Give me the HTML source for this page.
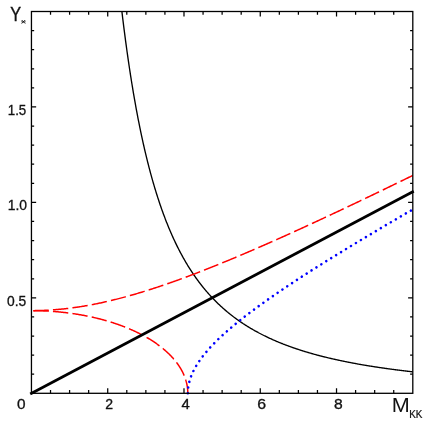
<!DOCTYPE html>
<html><head><meta charset="utf-8"><title>Y* vs MKK</title>
<style>
html,body{margin:0;padding:0;background:#fff;}
body{width:429px;height:421px;overflow:hidden;}
svg{display:block;will-change:transform;}
text{font-family:"Liberation Sans",sans-serif;fill:#111;stroke:#111;}
</style></head><body>
<svg width="429" height="421" viewBox="0 0 429 421">
<defs><clipPath id="c"><rect x="31.45" y="11.5" width="381.35" height="383.40"/></clipPath></defs>
<g clip-path="url(#c)" fill="none">
<path d="M120.79 1.96 L121.27 6.18 L121.76 10.35 L122.25 14.44 L122.73 18.47 L123.22 22.43 L123.71 26.34 L124.19 30.18 L124.68 33.96 L125.17 37.68 L125.65 41.35 L126.14 44.96 L126.63 48.51 L127.11 52.01 L127.60 55.46 L128.09 58.85 L128.57 62.19 L129.06 65.49 L129.55 68.73 L130.03 71.93 L130.52 75.08 L131.01 78.18 L131.49 81.24 L131.98 84.26 L132.47 87.23 L132.95 90.15 L133.44 93.04 L133.93 95.89 L134.41 98.69 L134.90 101.46 L135.39 104.18 L135.87 106.87 L136.36 109.52 L136.85 112.14 L137.33 114.72 L137.82 117.26 L138.31 119.77 L138.79 122.24 L139.28 124.68 L139.77 127.09 L140.25 129.47 L140.74 131.81 L141.23 134.13 L141.71 136.41 L142.20 138.66 L142.69 140.89 L143.17 143.08 L143.66 145.25 L144.15 147.38 L144.63 149.50 L145.12 151.58 L145.61 153.64 L146.09 155.67 L146.58 157.67 L147.07 159.65 L147.55 161.60 L148.04 163.54 L148.53 165.44 L149.01 167.32 L149.50 169.18 L149.99 171.02 L150.47 172.83 L150.96 174.63 L151.45 176.40 L151.93 178.15 L152.42 179.87 L152.91 181.58 L153.39 183.27 L153.88 184.93 L154.37 186.58 L154.85 188.21 L155.34 189.82 L155.83 191.41 L156.31 192.98 L156.80 194.53 L157.29 196.06 L157.77 197.58 L158.26 199.08 L158.75 200.56 L159.23 202.03 L159.72 203.48 L160.21 204.91 L160.69 206.32 L161.18 207.72 L161.67 209.11 L162.15 210.48 L162.64 211.83 L163.13 213.17 L163.61 214.50 L164.10 215.80 L164.59 217.10 L165.07 218.38 L165.56 219.65 L166.05 220.90 L166.53 222.14 L167.02 223.37 L167.51 224.58 L167.99 225.78 L168.48 226.97 L168.97 228.15 L169.45 229.31 L169.94 230.46 L170.43 231.60 L170.91 232.72 L171.40 233.84 L171.89 234.94 L172.37 236.03 L172.86 237.12 L173.35 238.19 L173.83 239.24 L174.32 240.29 L174.81 241.33 L175.29 242.36 L175.78 243.37 L176.27 244.38 L176.75 245.37 L177.24 246.36 L177.73 247.34 L178.21 248.30 L178.70 249.26 L179.19 250.21 L179.67 251.14 L180.16 252.07 L180.65 252.99 L181.14 253.90 L181.62 254.81 L182.11 255.70 L182.60 256.58 L183.08 257.46 L183.57 258.33 L184.06 259.19 L184.54 260.04 L185.03 260.88 L185.52 261.72 L186.00 262.55 L186.49 263.36 L186.98 264.18 L187.46 264.98 L187.95 265.78 L188.44 266.57 L188.92 267.35 L189.41 268.12 L189.90 268.89 L190.38 269.65 L190.87 270.41 L191.36 271.15 L191.84 271.89 L192.33 272.63 L192.82 273.35 L193.30 274.07 L193.79 274.79 L194.28 275.50 L194.76 276.20 L195.25 276.89 L195.74 277.58 L196.22 278.26 L196.71 278.94 L197.20 279.61 L197.68 280.28 L198.17 280.93 L198.66 281.59 L199.14 282.23 L199.63 282.88 L200.12 283.51 L200.60 284.14 L201.09 284.77 L201.58 285.39 L202.06 286.00 L202.55 286.61 L203.04 287.22 L203.52 287.82 L204.01 288.41 L204.50 289.00 L204.98 289.58 L205.47 290.16 L205.96 290.74 L206.44 291.31 L206.93 291.87 L207.42 292.43 L207.90 292.99 L208.39 293.54 L208.88 294.09 L209.36 294.63 L209.85 295.17 L210.34 295.70 L210.82 296.23 L211.31 296.75 L211.80 297.27 L212.28 297.79 L212.77 298.30 L213.26 298.81 L213.74 299.31 L214.23 299.81 L214.72 300.31 L215.20 300.80 L215.69 301.29 L216.18 301.77 L216.66 302.25 L217.15 302.73 L217.64 303.20 L218.12 303.67 L218.61 304.14 L219.10 304.60 L219.58 305.06 L220.07 305.51 L220.56 305.96 L221.04 306.41 L221.53 306.86 L222.02 307.30 L222.50 307.74 L222.99 308.17 L223.48 308.60 L223.96 309.03 L224.45 309.45 L224.94 309.87 L225.42 310.29 L225.91 310.71 L226.40 311.12 L226.88 311.53 L227.37 311.93 L227.86 312.34 L228.34 312.74 L228.83 313.13 L229.32 313.53 L229.80 313.92 L230.29 314.31 L230.78 314.69 L231.26 315.07 L231.75 315.45 L232.24 315.83 L232.72 316.20 L233.21 316.58 L233.70 316.94 L234.18 317.31 L234.67 317.67 L235.16 318.04 L235.64 318.39 L236.13 318.75 L236.62 319.10 L237.10 319.45 L237.59 319.80 L238.08 320.15 L238.56 320.49 L239.05 320.83 L239.54 321.17 L240.02 321.51 L240.51 321.84 L241.00 322.17 L241.48 322.50 L241.97 322.83 L242.46 323.15 L242.94 323.48 L243.43 323.80 L243.92 324.11 L244.40 324.43 L244.89 324.74 L245.38 325.06 L245.86 325.36 L246.35 325.67 L246.84 325.98 L247.33 326.28 L247.81 326.58 L248.30 326.88 L248.79 327.18 L249.27 327.47 L249.76 327.77 L250.25 328.06 L250.73 328.35 L251.22 328.63 L251.71 328.92 L252.19 329.20 L252.68 329.48 L253.17 329.76 L253.65 330.04 L254.14 330.32 L254.63 330.59 L255.11 330.87 L255.60 331.14 L256.09 331.41 L256.57 331.67 L257.06 331.94 L257.55 332.20 L258.03 332.46 L258.52 332.73 L259.01 332.98 L259.49 333.24 L259.98 333.50 L260.47 333.75 L260.95 334.00 L261.44 334.25 L261.93 334.50 L262.41 334.75 L262.90 335.00 L263.39 335.24 L263.87 335.48 L264.36 335.73 L264.85 335.97 L265.33 336.20 L265.82 336.44 L266.31 336.68 L266.79 336.91 L267.28 337.14 L267.77 337.37 L268.25 337.60 L268.74 337.83 L269.23 338.06 L269.71 338.28 L270.20 338.51 L270.69 338.73 L271.17 338.95 L271.66 339.17 L272.15 339.39 L272.63 339.61 L273.12 339.82 L273.61 340.04 L274.09 340.25 L274.58 340.46 L275.07 340.67 L275.55 340.88 L276.04 341.09 L276.53 341.30 L277.01 341.51 L277.50 341.71 L277.99 341.91 L278.47 342.12 L278.96 342.32 L279.45 342.52 L279.93 342.72 L280.42 342.91 L280.91 343.11 L281.39 343.31 L281.88 343.50 L282.37 343.69 L282.85 343.88 L283.34 344.08 L283.83 344.26 L284.31 344.45 L284.80 344.64 L285.29 344.83 L285.77 345.01 L286.26 345.20 L286.75 345.38 L287.23 345.56 L287.72 345.74 L288.21 345.92 L288.69 346.10 L289.18 346.28 L289.67 346.46 L290.15 346.63 L290.64 346.81 L291.13 346.98 L291.61 347.16 L292.10 347.33 L292.59 347.50 L293.07 347.67 L293.56 347.84 L294.05 348.01 L294.53 348.18 L295.02 348.34 L295.51 348.51 L295.99 348.67 L296.48 348.84 L296.97 349.00 L297.45 349.16 L297.94 349.32 L298.43 349.48 L298.91 349.64 L299.40 349.80 L299.89 349.96 L300.37 350.11 L300.86 350.27 L301.35 350.42 L301.83 350.58 L302.32 350.73 L302.81 350.88 L303.29 351.04 L303.78 351.19 L304.27 351.34 L304.75 351.49 L305.24 351.64 L305.73 351.78 L306.21 351.93 L306.70 352.08 L307.19 352.22 L307.67 352.37 L308.16 352.51 L308.65 352.65 L309.13 352.80 L309.62 352.94 L310.11 353.08 L310.59 353.22 L311.08 353.36 L311.57 353.50 L312.05 353.63 L312.54 353.77 L313.03 353.91 L313.52 354.04 L314.00 354.18 L314.49 354.31 L314.98 354.45 L315.46 354.58 L315.95 354.71 L316.44 354.84 L316.92 354.98 L317.41 355.11 L317.90 355.24 L318.38 355.36 L318.87 355.49 L319.36 355.62 L319.84 355.75 L320.33 355.87 L320.82 356.00 L321.30 356.12 L321.79 356.25 L322.28 356.37 L322.76 356.50 L323.25 356.62 L323.74 356.74 L324.22 356.86 L324.71 356.98 L325.20 357.10 L325.68 357.22 L326.17 357.34 L326.66 357.46 L327.14 357.58 L327.63 357.70 L328.12 357.81 L328.60 357.93 L329.09 358.04 L329.58 358.16 L330.06 358.27 L330.55 358.39 L331.04 358.50 L331.52 358.61 L332.01 358.73 L332.50 358.84 L332.98 358.95 L333.47 359.06 L333.96 359.17 L334.44 359.28 L334.93 359.39 L335.42 359.50 L335.90 359.60 L336.39 359.71 L336.88 359.82 L337.36 359.93 L337.85 360.03 L338.34 360.14 L338.82 360.24 L339.31 360.35 L339.80 360.45 L340.28 360.55 L340.77 360.66 L341.26 360.76 L341.74 360.86 L342.23 360.96 L342.72 361.06 L343.20 361.16 L343.69 361.26 L344.18 361.36 L344.66 361.46 L345.15 361.56 L345.64 361.66 L346.12 361.76 L346.61 361.86 L347.10 361.95 L347.58 362.05 L348.07 362.14 L348.56 362.24 L349.04 362.34 L349.53 362.43 L350.02 362.52 L350.50 362.62 L350.99 362.71 L351.48 362.80 L351.96 362.90 L352.45 362.99 L352.94 363.08 L353.42 363.17 L353.91 363.26 L354.40 363.35 L354.88 363.44 L355.37 363.53 L355.86 363.62 L356.34 363.71 L356.83 363.80 L357.32 363.89 L357.80 363.98 L358.29 364.06 L358.78 364.15 L359.26 364.24 L359.75 364.32 L360.24 364.41 L360.72 364.49 L361.21 364.58 L361.70 364.66 L362.18 364.75 L362.67 364.83 L363.16 364.91 L363.64 365.00 L364.13 365.08 L364.62 365.16 L365.10 365.24 L365.59 365.33 L366.08 365.41 L366.56 365.49 L367.05 365.57 L367.54 365.65 L368.02 365.73 L368.51 365.81 L369.00 365.89 L369.48 365.97 L369.97 366.05 L370.46 366.12 L370.94 366.20 L371.43 366.28 L371.92 366.36 L372.40 366.43 L372.89 366.51 L373.38 366.59 L373.86 366.66 L374.35 366.74 L374.84 366.81 L375.32 366.89 L375.81 366.96 L376.30 367.04 L376.78 367.11 L377.27 367.18 L377.76 367.26 L378.24 367.33 L378.73 367.40 L379.22 367.48 L379.71 367.55 L380.19 367.62 L380.68 367.69 L381.17 367.76 L381.65 367.83 L382.14 367.90 L382.63 367.97 L383.11 368.04 L383.60 368.11 L384.09 368.18 L384.57 368.25 L385.06 368.32 L385.55 368.39 L386.03 368.46 L386.52 368.53 L387.01 368.59 L387.49 368.66 L387.98 368.73 L388.47 368.80 L388.95 368.86 L389.44 368.93 L389.93 369.00 L390.41 369.06 L390.90 369.13 L391.39 369.19 L391.87 369.26 L392.36 369.32 L392.85 369.39 L393.33 369.45 L393.82 369.51 L394.31 369.58 L394.79 369.64 L395.28 369.71 L395.77 369.77 L396.25 369.83 L396.74 369.89 L397.23 369.96 L397.71 370.02 L398.20 370.08 L398.69 370.14 L399.17 370.20 L399.66 370.26 L400.15 370.32 L400.63 370.38 L401.12 370.45 L401.61 370.51 L402.09 370.57 L402.58 370.62 L403.07 370.68 L403.55 370.74 L404.04 370.80 L404.53 370.86 L405.01 370.92 L405.50 370.98 L405.99 371.04 L406.47 371.09 L406.96 371.15 L407.45 371.21 L407.93 371.26 L408.42 371.32 L408.91 371.38 L409.39 371.43 L409.88 371.49 L410.37 371.55 L410.85 371.60 L411.34 371.66 L411.83 371.71 L412.31 371.77 L412.80 371.82" stroke="#000" stroke-width="1.35"/>
<path d="M33.36 310.63 L34.31 310.63 L35.25 310.62 L36.20 310.60 L37.15 310.59 L38.10 310.57 L39.05 310.54 L40.00 310.52 L40.95 310.49 L41.89 310.46 L42.84 310.42 L43.79 310.38 L44.74 310.34 L45.69 310.30 L46.64 310.25 L47.59 310.20 L48.53 310.15 L49.48 310.09 L50.43 310.03 L51.38 309.97 L52.33 309.91 L53.28 309.84 L54.23 309.77 L55.17 309.69 L56.12 309.62 L57.07 309.54 L58.02 309.46 L58.97 309.37 L59.92 309.28 L60.87 309.19 L61.81 309.10 L62.76 309.00 L63.71 308.90 L64.66 308.80 L65.61 308.69 L66.56 308.58 L67.51 308.47 L68.46 308.36 L69.40 308.24 L70.35 308.12 L71.30 308.00 L72.25 307.87 L73.20 307.74 L74.15 307.61 L75.10 307.48 L76.04 307.34 L76.99 307.21 L77.94 307.06 L78.89 306.92 L79.84 306.77 L80.79 306.62 L81.74 306.47 L82.68 306.32 L83.63 306.16 L84.58 306.00 L85.53 305.84 L86.48 305.67 L87.43 305.50 L88.38 305.33 L89.32 305.16 L90.27 304.98 L91.22 304.81 L92.17 304.63 L93.12 304.44 L94.07 304.26 L95.02 304.07 L95.96 303.88 L96.91 303.69 L97.86 303.49 L98.81 303.30 L99.76 303.10 L100.71 302.90 L101.66 302.69 L102.61 302.48 L103.55 302.28 L104.50 302.06 L105.45 301.85 L106.40 301.64 L107.35 301.42 L108.30 301.20 L109.25 300.98 L110.19 300.75 L111.14 300.52 L112.09 300.30 L113.04 300.06 L113.99 299.83 L114.94 299.60 L115.89 299.36 L116.83 299.12 L117.78 298.88 L118.73 298.64 L119.68 298.39 L120.63 298.14 L121.58 297.89 L122.53 297.64 L123.47 297.39 L124.42 297.13 L125.37 296.88 L126.32 296.62 L127.27 296.36 L128.22 296.09 L129.17 295.83 L130.11 295.56 L131.06 295.29 L132.01 295.02 L132.96 294.75 L133.91 294.48 L134.86 294.20 L135.81 293.92 L136.76 293.64 L137.70 293.36 L138.65 293.08 L139.60 292.80 L140.55 292.51 L141.50 292.22 L142.45 291.93 L143.40 291.64 L144.34 291.35 L145.29 291.05 L146.24 290.76 L147.19 290.46 L148.14 290.16 L149.09 289.86 L150.04 289.56 L150.98 289.25 L151.93 288.95 L152.88 288.64 L153.83 288.33 L154.78 288.02 L155.73 287.71 L156.68 287.40 L157.62 287.09 L158.57 286.77 L159.52 286.45 L160.47 286.14 L161.42 285.82 L162.37 285.49 L163.32 285.17 L164.26 284.85 L165.21 284.52 L166.16 284.20 L167.11 283.87 L168.06 283.54 L169.01 283.21 L169.96 282.88 L170.90 282.54 L171.85 282.21 L172.80 281.87 L173.75 281.54 L174.70 281.20 L175.65 280.86 L176.60 280.52 L177.55 280.18 L178.49 279.83 L179.44 279.49 L180.39 279.14 L181.34 278.80 L182.29 278.45 L183.24 278.10 L184.19 277.75 L185.13 277.40 L186.08 277.05 L187.03 276.70 L187.98 276.34 L188.93 275.99 L189.88 275.63 L190.83 275.27 L191.77 274.91 L192.72 274.55 L193.67 274.19 L194.62 273.83 L195.57 273.47 L196.52 273.11 L197.47 272.74 L198.41 272.38 L199.36 272.01 L200.31 271.64 L201.26 271.27 L202.21 270.90 L203.16 270.53 L204.11 270.16 L205.05 269.79 L206.00 269.42 L206.95 269.04 L207.90 268.67 L208.85 268.29 L209.80 267.92 L210.75 267.54 L211.70 267.16 L212.64 266.78 L213.59 266.40 L214.54 266.02 L215.49 265.64 L216.44 265.26 L217.39 264.87 L218.34 264.49 L219.28 264.10 L220.23 263.72 L221.18 263.33 L222.13 262.94 L223.08 262.56 L224.03 262.17 L224.98 261.78 L225.92 261.39 L226.87 261.00 L227.82 260.60 L228.77 260.21 L229.72 259.82 L230.67 259.42 L231.62 259.03 L232.56 258.63 L233.51 258.24 L234.46 257.84 L235.41 257.44 L236.36 257.04 L237.31 256.64 L238.26 256.25 L239.20 255.84 L240.15 255.44 L241.10 255.04 L242.05 254.64 L243.00 254.24 L243.95 253.83 L244.90 253.43 L245.84 253.02 L246.79 252.62 L247.74 252.21 L248.69 251.81 L249.64 251.40 L250.59 250.99 L251.54 250.58 L252.49 250.17 L253.43 249.76 L254.38 249.35 L255.33 248.94 L256.28 248.53 L257.23 248.12 L258.18 247.71 L259.13 247.29 L260.07 246.88 L261.02 246.47 L261.97 246.05 L262.92 245.64 L263.87 245.22 L264.82 244.80 L265.77 244.39 L266.71 243.97 L267.66 243.55 L268.61 243.13 L269.56 242.71 L270.51 242.30 L271.46 241.88 L272.41 241.45 L273.35 241.03 L274.30 240.61 L275.25 240.19 L276.20 239.77 L277.15 239.35 L278.10 238.92 L279.05 238.50 L279.99 238.07 L280.94 237.65 L281.89 237.22 L282.84 236.80 L283.79 236.37 L284.74 235.95 L285.69 235.52 L286.64 235.09 L287.58 234.66 L288.53 234.24 L289.48 233.81 L290.43 233.38 L291.38 232.95 L292.33 232.52 L293.28 232.09 L294.22 231.66 L295.17 231.23 L296.12 230.80 L297.07 230.36 L298.02 229.93 L298.97 229.50 L299.92 229.07 L300.86 228.63 L301.81 228.20 L302.76 227.76 L303.71 227.33 L304.66 226.89 L305.61 226.46 L306.56 226.02 L307.50 225.59 L308.45 225.15 L309.40 224.71 L310.35 224.28 L311.30 223.84 L312.25 223.40 L313.20 222.96 L314.14 222.52 L315.09 222.08 L316.04 221.65 L316.99 221.21 L317.94 220.77 L318.89 220.33 L319.84 219.88 L320.79 219.44 L321.73 219.00 L322.68 218.56 L323.63 218.12 L324.58 217.68 L325.53 217.23 L326.48 216.79 L327.43 216.35 L328.37 215.90 L329.32 215.46 L330.27 215.02 L331.22 214.57 L332.17 214.13 L333.12 213.68 L334.07 213.24 L335.01 212.79 L335.96 212.34 L336.91 211.90 L337.86 211.45 L338.81 211.01 L339.76 210.56 L340.71 210.11 L341.65 209.66 L342.60 209.22 L343.55 208.77 L344.50 208.32 L345.45 207.87 L346.40 207.42 L347.35 206.97 L348.29 206.52 L349.24 206.07 L350.19 205.62 L351.14 205.17 L352.09 204.72 L353.04 204.27 L353.99 203.82 L354.93 203.37 L355.88 202.92 L356.83 202.46 L357.78 202.01 L358.73 201.56 L359.68 201.11 L360.63 200.65 L361.58 200.20 L362.52 199.75 L363.47 199.29 L364.42 198.84 L365.37 198.39 L366.32 197.93 L367.27 197.48 L368.22 197.02 L369.16 196.57 L370.11 196.11 L371.06 195.66 L372.01 195.20 L372.96 194.75 L373.91 194.29 L374.86 193.83 L375.80 193.38 L376.75 192.92 L377.70 192.46 L378.65 192.01 L379.60 191.55 L380.55 191.09 L381.50 190.63 L382.44 190.18 L383.39 189.72 L384.34 189.26 L385.29 188.80 L386.24 188.34 L387.19 187.88 L388.14 187.42 L389.08 186.97 L390.03 186.51 L390.98 186.05 L391.93 185.59 L392.88 185.13 L393.83 184.67 L394.78 184.20 L395.73 183.74 L396.67 183.28 L397.62 182.82 L398.57 182.36 L399.52 181.90 L400.47 181.44 L401.42 180.98 L402.37 180.51 L403.31 180.05 L404.26 179.59 L405.21 179.13 L406.16 178.66 L407.11 178.20 L408.06 177.74 L409.01 177.28 L409.95 176.81 L410.90 176.35 L411.85 175.88 L412.80 175.42" stroke="#ff0000" stroke-width="1.5" stroke-dasharray="15.4 4.2" stroke-dashoffset="0"/>
<path d="M33.36 310.65 L33.97 310.65 L34.58 310.66 L35.18 310.66 L35.79 310.67 L36.40 310.68 L37.01 310.69 L37.62 310.70 L38.23 310.72 L38.84 310.73 L39.45 310.75 L40.05 310.77 L40.66 310.78 L41.27 310.80 L41.88 310.82 L42.49 310.85 L43.09 310.87 L43.70 310.89 L44.31 310.92 L44.92 310.95 L45.52 310.98 L46.13 311.01 L46.74 311.04 L47.34 311.07 L47.95 311.10 L48.55 311.14 L49.16 311.17 L49.77 311.21 L50.37 311.25 L50.98 311.29 L51.58 311.33 L52.18 311.37 L52.79 311.41 L53.39 311.46 L53.99 311.50 L54.60 311.55 L55.20 311.60 L55.80 311.65 L56.40 311.70 L57.00 311.75 L57.60 311.80 L58.21 311.86 L58.81 311.92 L59.41 311.97 L60.00 312.03 L60.60 312.09 L61.20 312.15 L61.80 312.21 L62.40 312.28 L62.99 312.34 L63.59 312.41 L64.19 312.47 L64.78 312.54 L65.38 312.61 L65.97 312.68 L66.57 312.75 L67.16 312.82 L67.75 312.90 L68.34 312.97 L68.94 313.05 L69.53 313.13 L70.12 313.21 L70.71 313.29 L71.30 313.37 L71.89 313.45 L72.47 313.54 L73.06 313.62 L73.65 313.71 L74.24 313.79 L74.82 313.88 L75.41 313.97 L75.99 314.06 L76.57 314.16 L77.16 314.25 L77.74 314.35 L78.32 314.44 L78.90 314.54 L79.48 314.64 L80.06 314.74 L80.64 314.84 L81.22 314.94 L81.80 315.04 L82.37 315.15 L82.95 315.25 L83.52 315.36 L84.10 315.47 L84.67 315.58 L85.24 315.69 L85.81 315.80 L86.39 315.91 L86.96 316.02 L87.52 316.14 L88.09 316.25 L88.66 316.37 L89.23 316.49 L89.79 316.61 L90.36 316.73 L90.92 316.85 L91.48 316.98 L92.05 317.10 L92.61 317.22 L93.17 317.35 L93.73 317.48 L94.29 317.61 L94.84 317.74 L95.40 317.87 L95.96 318.00 L96.51 318.13 L97.06 318.27 L97.62 318.41 L98.17 318.54 L98.72 318.68 L99.27 318.82 L99.82 318.96 L100.36 319.10 L100.91 319.24 L101.46 319.39 L102.00 319.53 L102.54 319.68 L103.09 319.82 L103.63 319.97 L104.17 320.12 L104.71 320.27 L105.24 320.42 L105.78 320.58 L106.31 320.73 L106.85 320.88 L107.38 321.04 L107.91 321.20 L108.45 321.36 L108.98 321.51 L109.50 321.67 L110.03 321.84 L110.56 322.00 L111.08 322.16 L111.61 322.33 L112.13 322.49 L112.65 322.66 L113.17 322.83 L113.69 323.00 L114.21 323.17 L114.72 323.34 L115.24 323.51 L115.75 323.68 L116.26 323.86 L116.78 324.03 L117.29 324.21 L117.79 324.38 L118.30 324.56 L118.81 324.74 L119.31 324.92 L119.82 325.10 L120.32 325.29 L120.82 325.47 L121.32 325.66 L121.81 325.84 L122.31 326.03 L122.81 326.22 L123.30 326.40 L123.79 326.59 L124.28 326.78 L124.77 326.98 L125.26 327.17 L125.75 327.36 L126.23 327.56 L126.72 327.75 L127.20 327.95 L127.68 328.15 L128.16 328.35 L128.64 328.55 L129.12 328.75 L129.59 328.95 L130.06 329.15 L130.54 329.35 L131.01 329.56 L131.48 329.76 L131.94 329.97 L132.41 330.18 L132.87 330.39 L133.34 330.60 L133.80 330.81 L134.26 331.02 L134.72 331.23 L135.17 331.44 L135.63 331.66 L136.08 331.87 L136.53 332.09 L136.98 332.31 L137.43 332.52 L137.88 332.74 L138.33 332.96 L138.77 333.18 L139.21 333.40 L139.65 333.63 L140.09 333.85 L140.53 334.07 L140.96 334.30 L141.40 334.52 L141.83 334.75 L142.26 334.98 L142.69 335.21 L143.12 335.44 L143.54 335.67 L143.97 335.90 L144.39 336.13 L144.81 336.36 L145.23 336.60 L145.65 336.83 L146.06 337.07 L146.48 337.31 L146.89 337.54 L147.30 337.78 L147.71 338.02 L148.11 338.26 L148.52 338.50 L148.92 338.74 L149.32 338.98 L149.72 339.23 L150.12 339.47 L150.51 339.72 L150.91 339.96 L151.30 340.21 L151.69 340.46 L152.08 340.70 L152.47 340.95 L152.85 341.20 L153.23 341.45 L153.62 341.70 L154.00 341.96 L154.37 342.21 L154.75 342.46 L155.12 342.72 L155.49 342.97 L155.86 343.23 L156.23 343.48 L156.60 343.74 L156.96 344.00 L157.33 344.26 L157.69 344.52 L158.04 344.78 L158.40 345.04 L158.76 345.30 L159.11 345.57 L159.46 345.83 L159.81 346.09 L160.16 346.36 L160.50 346.62 L160.84 346.89 L161.18 347.16 L161.52 347.42 L161.86 347.69 L162.20 347.96 L162.53 348.23 L162.86 348.50 L163.19 348.77 L163.52 349.04 L163.84 349.32 L164.17 349.59 L164.49 349.86 L164.81 350.14 L165.12 350.41 L165.44 350.69 L165.75 350.96 L166.06 351.24 L166.37 351.52 L166.68 351.80 L166.98 352.08 L167.29 352.35 L167.59 352.63 L167.89 352.92 L168.18 353.20 L168.48 353.48 L168.77 353.76 L169.06 354.04 L169.35 354.33 L169.63 354.61 L169.92 354.90 L170.20 355.18 L170.48 355.47 L170.76 355.76 L171.03 356.04 L171.31 356.33 L171.58 356.62 L171.85 356.91 L172.12 357.20 L172.38 357.49 L172.64 357.78 L172.90 358.07 L173.16 358.36 L173.42 358.65 L173.67 358.95 L173.93 359.24 L174.18 359.53 L174.42 359.83 L174.67 360.12 L174.91 360.42 L175.15 360.71 L175.39 361.01 L175.63 361.31 L175.86 361.60 L176.10 361.90 L176.33 362.20 L176.56 362.50 L176.78 362.80 L177.01 363.10 L177.23 363.40 L177.45 363.70 L177.66 364.00 L177.88 364.30 L178.09 364.60 L178.30 364.90 L178.51 365.21 L178.72 365.51 L178.92 365.81 L179.12 366.12 L179.32 366.42 L179.52 366.73 L179.71 367.03 L179.90 367.34 L180.09 367.64 L180.28 367.95 L180.47 368.26 L180.65 368.56 L180.83 368.87 L181.01 369.18 L181.19 369.49 L181.36 369.79 L181.53 370.10 L181.70 370.41 L181.87 370.72 L182.04 371.03 L182.20 371.34 L182.36 371.65 L182.52 371.96 L182.68 372.28 L182.83 372.59 L182.98 372.90 L183.13 373.21 L183.28 373.52 L183.42 373.84 L183.56 374.15 L183.70 374.46 L183.84 374.78 L183.98 375.09 L184.11 375.41 L184.24 375.72 L184.37 376.04 L184.50 376.35 L184.62 376.67 L184.74 376.98 L184.86 377.30 L184.98 377.61 L185.09 377.93 L185.20 378.25 L185.31 378.56 L185.42 378.88 L185.53 379.20 L185.63 379.52 L185.73 379.83 L185.83 380.15 L185.92 380.47 L186.02 380.79 L186.11 381.11 L186.20 381.42 L186.28 381.74 L186.37 382.06 L186.45 382.38 L186.53 382.70 L186.60 383.02 L186.68 383.34 L186.75 383.66 L186.82 383.98 L186.89 384.30 L186.95 384.62 L187.02 384.94 L187.08 385.26 L187.13 385.58 L187.19 385.90 L187.24 386.22 L187.29 386.54 L187.34 386.86 L187.39 387.19 L187.43 387.51 L187.48 387.83 L187.51 388.15 L187.55 388.47 L187.59 388.79 L187.62 389.11 L187.65 389.44 L187.67 389.76 L187.70 390.08 L187.72 390.40 L187.74 390.72 L187.76 391.05 L187.78 391.37 L187.79 391.69 L187.80 392.01 L187.81 392.33 L187.81 392.66 L187.82 392.98 L187.82 393.30" stroke="#ff0000" stroke-width="1.5" stroke-dasharray="15.4 4.2" stroke-dashoffset="0"/>
<path d="M187.82 393.30 L187.82 393.09 L187.82 392.88 L187.82 392.66 L187.83 392.45 L187.83 392.24 L187.84 392.03 L187.84 391.82 L187.85 391.60 L187.86 391.39 L187.87 391.18 L187.88 390.97 L187.89 390.75 L187.90 390.54 L187.92 390.33 L187.93 390.12 L187.95 389.91 L187.97 389.69 L187.98 389.48 L188.00 389.27 L188.02 389.06 L188.05 388.84 L188.07 388.63 L188.09 388.42 L188.11 388.21 L188.14 387.99 L188.17 387.78 L188.19 387.57 L188.22 387.36 L188.25 387.14 L188.28 386.93 L188.31 386.72 L188.35 386.50 L188.38 386.29 L188.41 386.08 L188.45 385.87 L188.49 385.65 L188.52 385.44 L188.56 385.23 L188.60 385.01 L188.64 384.80 L188.68 384.59 L188.73 384.37 L188.77 384.16 L188.82 383.95 L188.86 383.73 L188.91 383.52 L188.96 383.31 L189.01 383.09 L189.06 382.88 L189.11 382.67 L189.16 382.45 L189.21 382.24 L189.27 382.02 L189.32 381.81 L189.38 381.59 L189.44 381.38 L189.49 381.17 L189.55 380.95 L189.61 380.74 L189.68 380.52 L189.74 380.31 L189.80 380.09 L189.87 379.88 L189.93 379.66 L190.00 379.45 L190.07 379.23 L190.13 379.02 L190.20 378.80 L190.28 378.59 L190.35 378.37 L190.42 378.16 L190.49 377.94 L190.57 377.72 L190.65 377.51 L190.72 377.29 L190.80 377.08 L190.88 376.86 L190.96 376.64 L191.04 376.43 L191.12 376.21 L191.21 375.99 L191.29 375.78 L191.38 375.56 L191.46 375.34 L191.55 375.13 L191.64 374.91 L191.73 374.69 L191.82 374.47 L191.91 374.26 L192.01 374.04 L192.10 373.82 L192.20 373.60 L192.29 373.39 L192.39 373.17 L192.49 372.95 L192.59 372.73 L192.69 372.51 L192.79 372.29 L192.89 372.07 L192.99 371.85 L193.10 371.64 L193.21 371.42 L193.31 371.20 L193.42 370.98 L193.53 370.76 L193.64 370.54 L193.75 370.32 L193.86 370.10 L193.97 369.88 L194.09 369.66 L194.20 369.44 L194.32 369.21 L194.44 368.99 L194.56 368.77 L194.68 368.55 L194.80 368.33 L194.92 368.11 L195.04 367.89 L195.17 367.66 L195.29 367.44 L195.42 367.22 L195.54 367.00 L195.67 366.77 L195.80 366.55 L195.93 366.33 L196.06 366.11 L196.20 365.88 L196.33 365.66 L196.46 365.43 L196.60 365.21 L196.74 364.99 L196.87 364.76 L197.01 364.54 L197.15 364.31 L197.30 364.09 L197.44 363.86 L197.58 363.64 L197.73 363.41 L197.87 363.19 L198.02 362.96 L198.17 362.73 L198.31 362.51 L198.46 362.28 L198.62 362.06 L198.77 361.83 L198.92 361.60 L199.08 361.37 L199.23 361.15 L199.39 360.92 L199.55 360.69 L199.70 360.46 L199.86 360.23 L200.03 360.01 L200.19 359.78 L200.35 359.55 L200.52 359.32 L200.68 359.09 L200.85 358.86 L201.02 358.63 L201.18 358.40 L201.35 358.17 L201.53 357.94 L201.70 357.71 L201.87 357.48 L202.05 357.25 L202.22 357.01 L202.40 356.78 L202.58 356.55 L202.75 356.32 L202.93 356.09 L203.12 355.85 L203.30 355.62 L203.48 355.39 L203.67 355.15 L203.85 354.92 L204.04 354.69 L204.23 354.45 L204.42 354.22 L204.61 353.98 L204.80 353.75 L204.99 353.51 L205.18 353.28 L205.38 353.04 L205.58 352.80 L205.77 352.57 L205.97 352.33 L206.17 352.09 L206.37 351.86 L206.57 351.62 L206.78 351.38 L206.98 351.14 L207.18 350.91 L207.39 350.67 L207.60 350.43 L207.81 350.19 L208.02 349.95 L208.23 349.71 L208.44 349.47 L208.65 349.23 L208.87 348.99 L209.08 348.75 L209.30 348.51 L209.52 348.27 L209.74 348.02 L209.96 347.78 L210.18 347.54 L210.40 347.30 L210.63 347.05 L210.85 346.81 L211.08 346.57 L211.31 346.32 L211.53 346.08 L211.76 345.84 L211.99 345.59 L212.23 345.35 L212.46 345.10 L212.69 344.85 L212.93 344.61 L213.17 344.36 L213.41 344.12 L213.65 343.87 L213.89 343.62 L214.13 343.37 L214.37 343.13 L214.61 342.88 L214.86 342.63 L215.11 342.38 L215.35 342.13 L215.60 341.88 L215.85 341.63 L216.10 341.38 L216.36 341.13 L216.61 340.88 L216.87 340.63 L217.12 340.38 L217.38 340.12 L217.64 339.87 L217.90 339.62 L218.16 339.37 L218.42 339.11 L218.69 338.86 L218.95 338.60 L219.22 338.35 L219.48 338.09 L219.75 337.84 L220.02 337.58 L220.29 337.33 L220.57 337.07 L220.84 336.81 L221.12 336.56 L221.39 336.30 L221.67 336.04 L221.95 335.78 L222.23 335.53 L222.51 335.27 L222.79 335.01 L223.07 334.75 L223.36 334.49 L223.64 334.23 L223.93 333.97 L224.22 333.70 L224.51 333.44 L224.80 333.18 L225.09 332.92 L225.39 332.66 L225.68 332.39 L225.98 332.13 L226.28 331.86 L226.58 331.60 L226.88 331.33 L227.18 331.07 L227.48 330.80 L227.78 330.54 L228.09 330.27 L228.40 330.00 L228.70 329.74 L229.01 329.47 L229.32 329.20 L229.64 328.93 L229.95 328.66 L230.26 328.39 L230.58 328.12 L230.90 327.85 L231.21 327.58 L231.53 327.31 L231.86 327.04 L232.18 326.77 L232.50 326.50 L232.83 326.22 L233.15 325.95 L233.48 325.67 L233.81 325.40 L234.14 325.13 L234.47 324.85 L234.80 324.58 L235.14 324.30 L235.47 324.02 L235.81 323.75 L236.15 323.47 L236.49 323.19 L236.83 322.91 L237.17 322.63 L237.52 322.35 L237.86 322.07 L238.21 321.79 L238.56 321.51 L238.90 321.23 L239.25 320.95 L239.61 320.67 L239.96 320.39 L240.31 320.10 L240.67 319.82 L241.03 319.53 L241.39 319.25 L241.75 318.97 L242.11 318.68 L242.47 318.39 L242.84 318.11 L243.20 317.82 L243.57 317.53 L243.94 317.24 L244.31 316.96 L244.68 316.67 L245.05 316.38 L245.43 316.09 L245.80 315.80 L246.18 315.51 L246.56 315.21 L246.94 314.92 L247.32 314.63 L247.70 314.34 L248.08 314.04 L248.47 313.75 L248.86 313.45 L249.24 313.16 L249.63 312.86 L250.03 312.57 L250.42 312.27 L250.81 311.97 L251.21 311.68 L251.60 311.38 L252.00 311.08 L252.40 310.78 L252.80 310.48 L253.21 310.18 L253.61 309.88 L254.02 309.58 L254.42 309.27 L254.83 308.97 L255.24 308.67 L255.65 308.36 L256.07 308.06 L256.48 307.75 L256.90 307.45 L257.32 307.14 L257.73 306.84 L258.15 306.53 L258.58 306.22 L259.00 305.91 L259.43 305.60 L259.85 305.29 L260.28 304.98 L260.71 304.67 L261.14 304.36 L261.57 304.05 L262.01 303.74 L262.44 303.42 L262.88 303.11 L263.32 302.80 L263.76 302.48 L264.20 302.17 L264.64 301.85 L265.09 301.53 L265.53 301.22 L265.98 300.90 L266.43 300.58 L266.88 300.26 L267.33 299.94 L267.79 299.62 L268.24 299.30 L268.70 298.98 L269.16 298.66 L269.62 298.33 L270.08 298.01 L270.54 297.69 L271.01 297.36 L271.48 297.04 L271.94 296.71 L272.41 296.38 L272.89 296.06 L273.36 295.73 L273.83 295.40 L274.31 295.07 L274.79 294.74 L275.27 294.41 L275.75 294.08 L276.23 293.75 L276.71 293.42 L277.20 293.08 L277.69 292.75 L278.17 292.41 L278.67 292.08 L279.16 291.74 L279.65 291.41 L280.15 291.07 L280.64 290.73 L281.14 290.39 L281.64 290.06 L282.15 289.72 L282.65 289.37 L283.15 289.03 L283.66 288.69 L284.17 288.35 L284.68 288.01 L285.19 287.66 L285.71 287.32 L286.22 286.97 L286.74 286.63 L287.26 286.28 L287.78 285.93 L288.30 285.58 L288.82 285.24 L289.35 284.89 L289.88 284.54 L290.40 284.19 L290.93 283.83 L291.47 283.48 L292.00 283.13 L292.54 282.77 L293.07 282.42 L293.61 282.06 L294.15 281.71 L294.70 281.35 L295.24 280.99 L295.79 280.64 L296.33 280.28 L296.88 279.92 L297.44 279.56 L297.99 279.20 L298.54 278.83 L299.10 278.47 L299.66 278.11 L300.22 277.74 L300.78 277.38 L301.34 277.01 L301.91 276.65 L302.48 276.28 L303.05 275.91 L303.62 275.54 L304.19 275.17 L304.76 274.80 L305.34 274.43 L305.92 274.06 L306.50 273.69 L307.08 273.31 L307.66 272.94 L308.25 272.56 L308.83 272.19 L309.42 271.81 L310.01 271.43 L310.61 271.06 L311.20 270.68 L311.80 270.30 L312.39 269.92 L312.99 269.53 L313.60 269.15 L314.20 268.77 L314.81 268.38 L315.41 268.00 L316.02 267.61 L316.63 267.23 L317.25 266.84 L317.86 266.45 L318.48 266.06 L319.10 265.67 L319.72 265.28 L320.34 264.89 L320.96 264.50 L321.59 264.11 L322.22 263.71 L322.85 263.32 L323.48 262.92 L324.11 262.53 L324.75 262.13 L325.39 261.73 L326.03 261.33 L326.67 260.93 L327.31 260.53 L327.96 260.13 L328.60 259.72 L329.25 259.32 L329.91 258.92 L330.56 258.51 L331.21 258.11 L331.87 257.70 L332.53 257.29 L333.19 256.88 L333.85 256.47 L334.52 256.06 L335.19 255.65 L335.86 255.24 L336.53 254.82 L337.20 254.41 L337.88 253.99 L338.55 253.58 L339.23 253.16 L339.91 252.74 L340.60 252.32 L341.28 251.90 L341.97 251.48 L342.66 251.06 L343.35 250.64 L344.04 250.22 L344.74 249.79 L345.44 249.37 L346.14 248.94 L346.84 248.51 L347.54 248.08 L348.25 247.65 L348.96 247.22 L349.67 246.79 L350.38 246.36 L351.09 245.93 L351.81 245.49 L352.53 245.06 L353.25 244.62 L353.97 244.19 L354.70 243.75 L355.42 243.31 L356.15 242.87 L356.89 242.43 L357.62 241.99 L358.35 241.54 L359.09 241.10 L359.83 240.65 L360.57 240.21 L361.32 239.76 L362.06 239.31 L362.81 238.86 L363.56 238.41 L364.32 237.96 L365.07 237.51 L365.83 237.06 L366.59 236.60 L367.35 236.15 L368.12 235.69 L368.88 235.23 L369.65 234.78 L370.42 234.32 L371.19 233.86 L371.97 233.40 L372.75 232.93 L373.53 232.47 L374.31 232.00 L375.09 231.54 L375.88 231.07 L376.67 230.60 L377.46 230.14 L378.25 229.67 L379.05 229.20 L379.84 228.72 L380.64 228.25 L381.45 227.78 L382.25 227.30 L383.06 226.82 L383.87 226.35 L384.68 225.87 L385.49 225.39 L386.31 224.91 L387.13 224.43 L387.95 223.94 L388.77 223.46 L389.60 222.97 L390.43 222.49 L391.26 222.00 L392.09 221.51 L392.92 221.02 L393.76 220.53 L394.60 220.04 L395.44 219.54 L396.29 219.05 L397.14 218.55 L397.98 218.06 L398.84 217.56 L399.69 217.06 L400.55 216.56 L401.41 216.06 L402.27 215.56 L403.13 215.05 L404.00 214.55 L404.87 214.04 L405.74 213.54 L406.61 213.03 L407.49 212.52 L408.37 212.01 L409.25 211.50 L410.13 210.98 L411.02 210.47 L411.91 209.95 L412.80 209.44" stroke="#0000ff" stroke-width="2.6" stroke-dasharray="0.01 5.79" stroke-linecap="round" stroke-dashoffset="0"/>
</g>
<path d="M30.23 393.95 L413.75 191.21" stroke="#000" stroke-width="2.75" fill="none"/>
<path d="M50.52 393.30 v-3.20 M50.52 11.50 v3.20 M69.59 393.30 v-3.20 M69.59 11.50 v3.20 M88.65 393.30 v-3.20 M88.65 11.50 v3.20 M107.72 393.30 v-5.00 M107.72 11.50 v5.00 M126.79 393.30 v-3.20 M126.79 11.50 v3.20 M145.86 393.30 v-3.20 M145.86 11.50 v3.20 M164.92 393.30 v-3.20 M164.92 11.50 v3.20 M183.99 393.30 v-5.00 M183.99 11.50 v5.00 M203.06 393.30 v-3.20 M203.06 11.50 v3.20 M222.12 393.30 v-3.20 M222.12 11.50 v3.20 M241.19 393.30 v-3.20 M241.19 11.50 v3.20 M260.26 393.30 v-5.00 M260.26 11.50 v5.00 M279.33 393.30 v-3.20 M279.33 11.50 v3.20 M298.40 393.30 v-3.20 M298.40 11.50 v3.20 M317.46 393.30 v-3.20 M317.46 11.50 v3.20 M336.53 393.30 v-5.00 M336.53 11.50 v5.00 M355.60 393.30 v-3.20 M355.60 11.50 v3.20 M374.67 393.30 v-3.20 M374.67 11.50 v3.20 M393.73 393.30 v-3.20 M393.73 11.50 v3.20 M31.45 374.21 h2.70 M412.80 374.21 h-2.70 M31.45 355.12 h2.70 M412.80 355.12 h-2.70 M31.45 336.03 h2.70 M412.80 336.03 h-2.70 M31.45 316.94 h2.70 M412.80 316.94 h-2.70 M31.45 297.85 h4.70 M412.80 297.85 h-4.70 M31.45 278.76 h2.70 M412.80 278.76 h-2.70 M31.45 259.67 h2.70 M412.80 259.67 h-2.70 M31.45 240.58 h2.70 M412.80 240.58 h-2.70 M31.45 221.49 h2.70 M412.80 221.49 h-2.70 M31.45 202.40 h4.70 M412.80 202.40 h-4.70 M31.45 183.31 h2.70 M412.80 183.31 h-2.70 M31.45 164.22 h2.70 M412.80 164.22 h-2.70 M31.45 145.13 h2.70 M412.80 145.13 h-2.70 M31.45 126.04 h2.70 M412.80 126.04 h-2.70 M31.45 106.95 h4.70 M412.80 106.95 h-4.70 M31.45 87.86 h2.70 M412.80 87.86 h-2.70 M31.45 68.77 h2.70 M412.80 68.77 h-2.70 M31.45 49.68 h2.70 M412.80 49.68 h-2.70 M31.45 30.59 h2.70 M412.80 30.59 h-2.70" stroke="#000" stroke-width="1.25" fill="none"/>
<rect x="31.45" y="11.5" width="381.35" height="381.80" fill="none" stroke="#000" stroke-width="1.3"/>
<text transform="matrix(0.8281 0 0 1 10.22 20.70)" font-size="19.58" stroke-width="0.431">Y</text>
<text transform="matrix(1.0860 0 0 1 391.77 411.75)" font-size="19.93" stroke-width="0.000">M</text>
<text transform="matrix(0.8771 0 0 1 409.21 418.19)" font-size="11.27" stroke-width="0.248">KK</text>
<text transform="matrix(1.0707 0 0 1 17.04 408.51)" font-size="14.38" stroke-width="0.316">0</text>
<text transform="matrix(0.9672 0 0 1 105.14 408.65)" font-size="14.58" stroke-width="0.321">2</text>
<text transform="matrix(1.0150 0 0 1 181.55 408.58)" font-size="14.69" stroke-width="0.323">4</text>
<text transform="matrix(1.1038 0 0 1 257.16 408.51)" font-size="14.38" stroke-width="0.316">6</text>
<text transform="matrix(1.0925 0 0 1 333.95 408.51)" font-size="14.38" stroke-width="0.316">8</text>
<text transform="matrix(0.9265 0 0 1 7.08 305.70)" font-size="14.93" stroke-width="0.328">0.5</text>
<text transform="matrix(0.9483 0 0 1 7.70 210.21)" font-size="14.66" stroke-width="0.322">1.0</text>
<text transform="matrix(0.8989 0 0 1 7.73 114.70)" font-size="14.86" stroke-width="0.327">1.5</text>
<path d="M21.72 20.07 L25.18 23.53" stroke="#000" stroke-opacity="1" stroke-width="0.95"/><path d="M25.18 20.07 L21.72 23.53" stroke="#000" stroke-opacity="1" stroke-width="0.95"/><path d="M21.00 21.80 L25.90 21.80" stroke="#000" stroke-opacity="0.55" stroke-width="0.95"/>
</svg>
</body></html>
